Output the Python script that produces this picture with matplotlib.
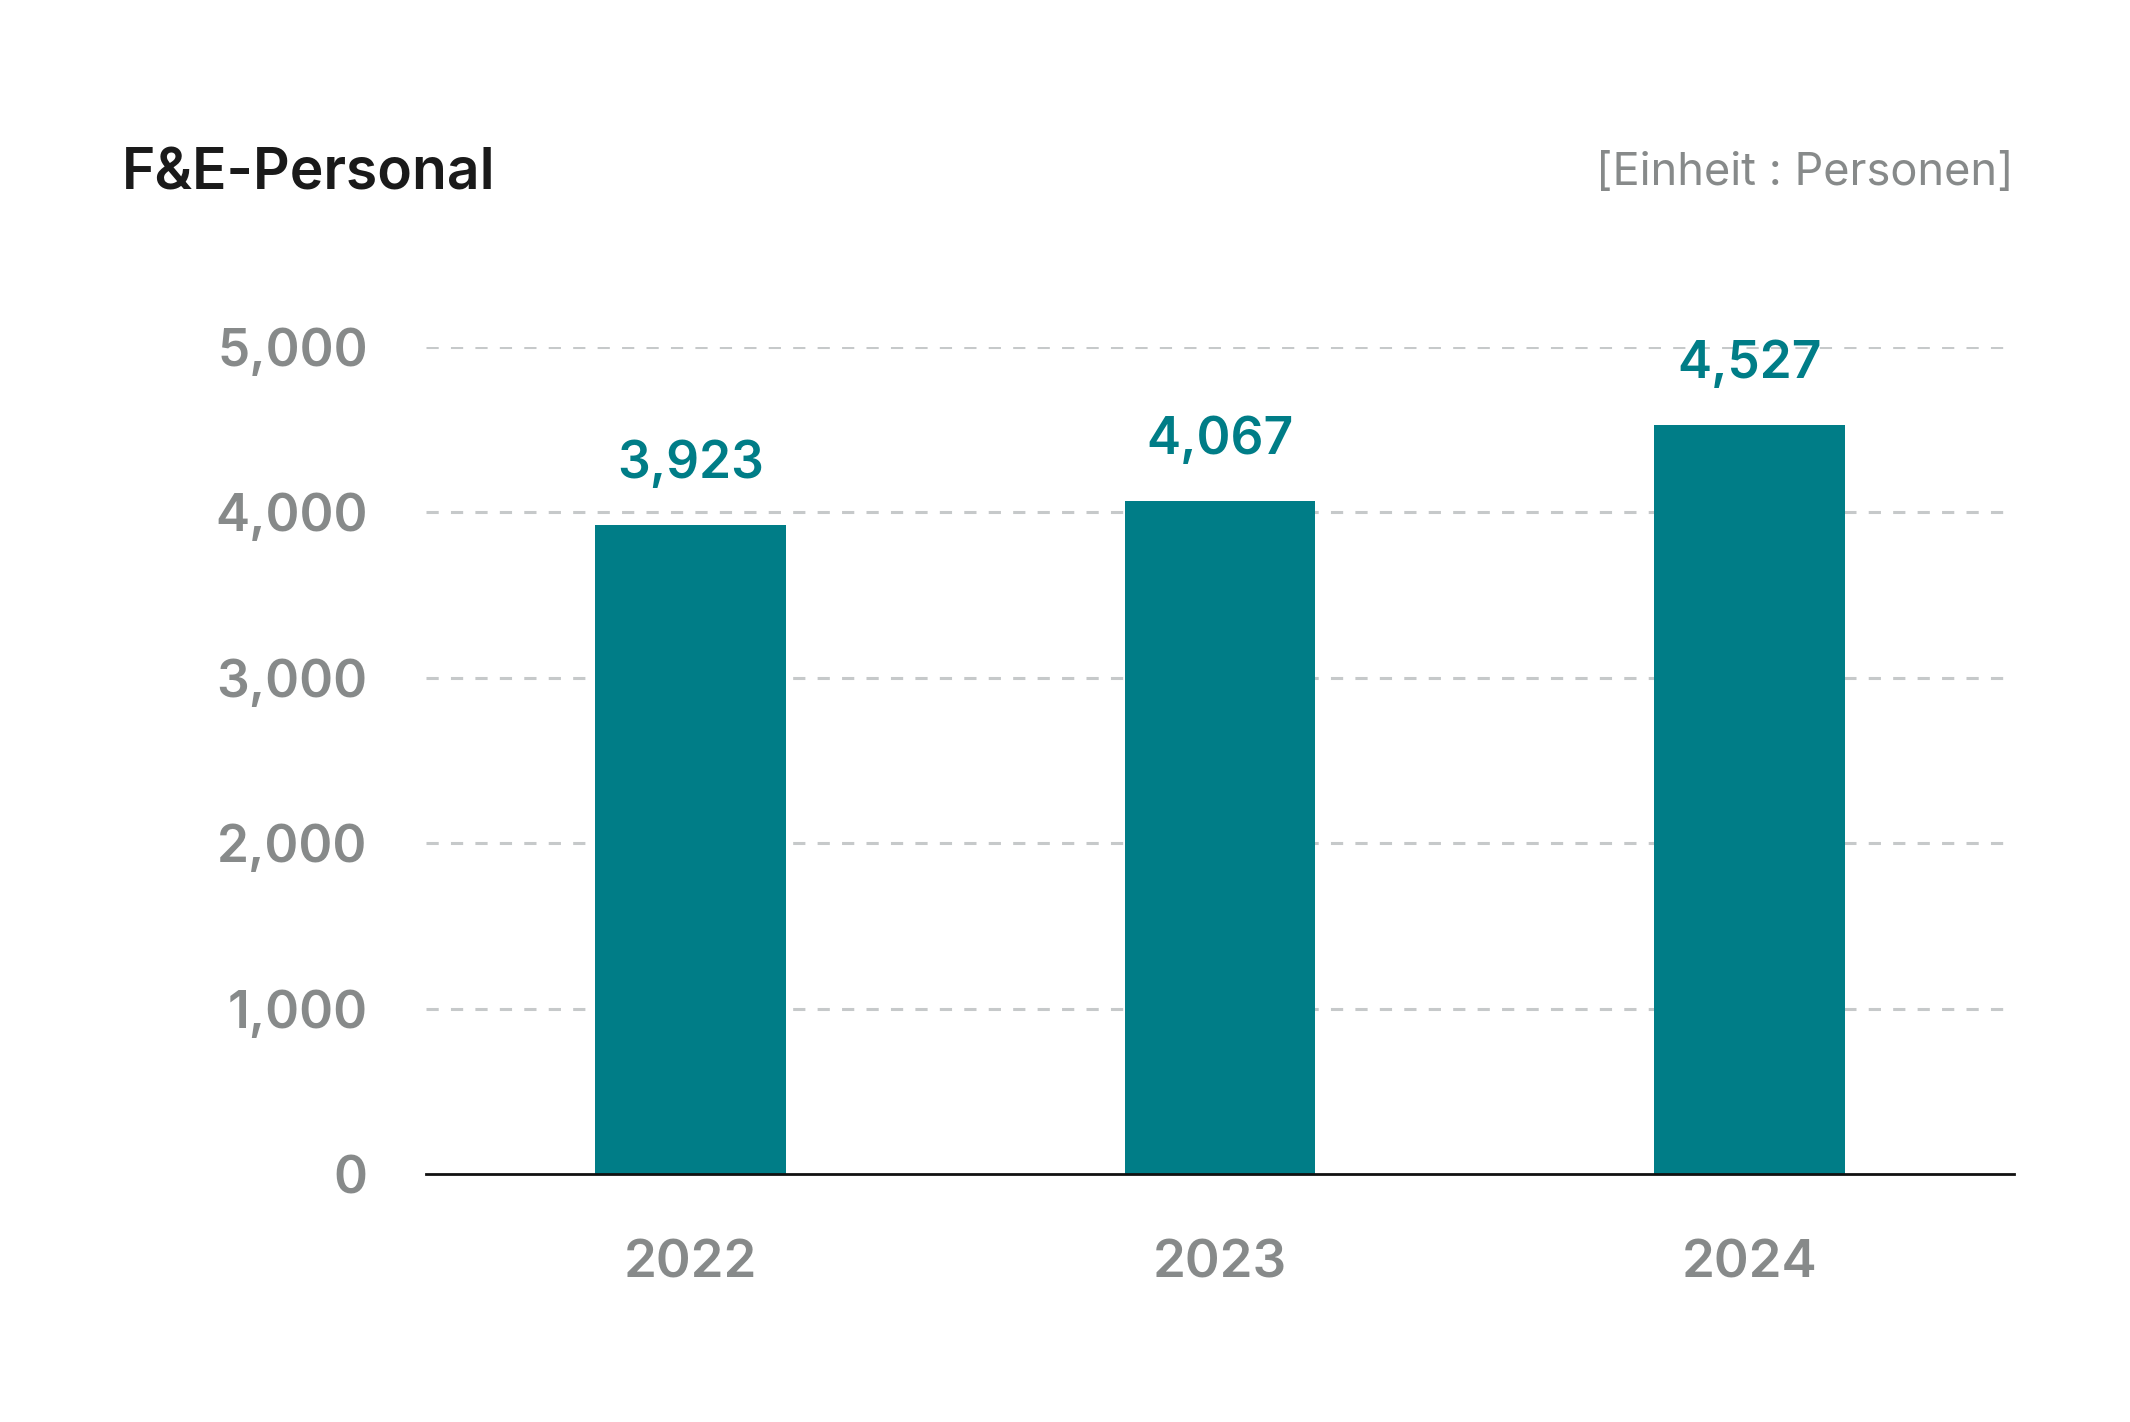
import matplotlib
matplotlib.use("Agg")
import matplotlib.pyplot as plt
import numpy as np

# data
years = ['2022', '2023', '2024']
staff = [3923, 4067, 4527]
yticks = [0, 1000, 2000, 3000, 4000, 5000]

teal = '#007d87'
grey = '#878a8a'

plt.rcParams['font.family'] = ['Inter', 'DejaVu Sans']

fig = plt.figure(figsize=(21.3, 14.22), dpi=100)
# axes in pixel terms: left 426, right 2014, bottom 1174, top 347
ax = fig.add_axes([426/2130, 1 - 1174/1422, (2014-426)/2130, (1174-347)/1422])

x = np.arange(len(years))
ax.bar(x, staff, width=0.36, color=teal, zorder=3)
for xi, v in zip(x, staff):
    ax.annotate(f'{v:,}', (xi, v), xytext=(0, 34), textcoords='offset points',
                ha='center', va='baseline', color=teal, fontsize=37,
                fontweight='semibold', annotation_clip=False)

ax.set_xlim(-0.5, 2.5)
ax.set_ylim(0, 5000)
ax.set_yticks(yticks)
ax.set_yticklabels([f'{t:,}' for t in yticks])
ax.set_xticks(x)
ax.set_xticklabels(years)
ax.tick_params(axis='y', length=0, pad=42, labelsize=37, labelcolor=grey)
ax.tick_params(axis='x', length=0, pad=47, labelsize=38, labelcolor=grey)
for lab in ax.get_xticklabels() + ax.get_yticklabels():
    lab.set_fontweight('semibold')

for t in yticks[1:]:
    ax.axhline(t, color='#c6c9ca', lw=2.2, dashes=(4, 4), zorder=1)

for s in ['top', 'right', 'left']:
    ax.spines[s].set_visible(False)
ax.spines['bottom'].set_color('#111111')
ax.spines['bottom'].set_linewidth(2)
ax.spines['bottom'].set_zorder(4)

fig.text(122/2130, 1 - 189/1422, 'F&E-Personal', fontsize=41, fontweight='semibold',
         color='#1a1a1a', ha='left', va='baseline')
fig.text(2014/2130, 1 - 185/1422, '[Einheit : Personen]', fontsize=32.5,
         color=grey, ha='right', va='baseline')

fig.savefig('out.png', dpi=100, facecolor='white')
